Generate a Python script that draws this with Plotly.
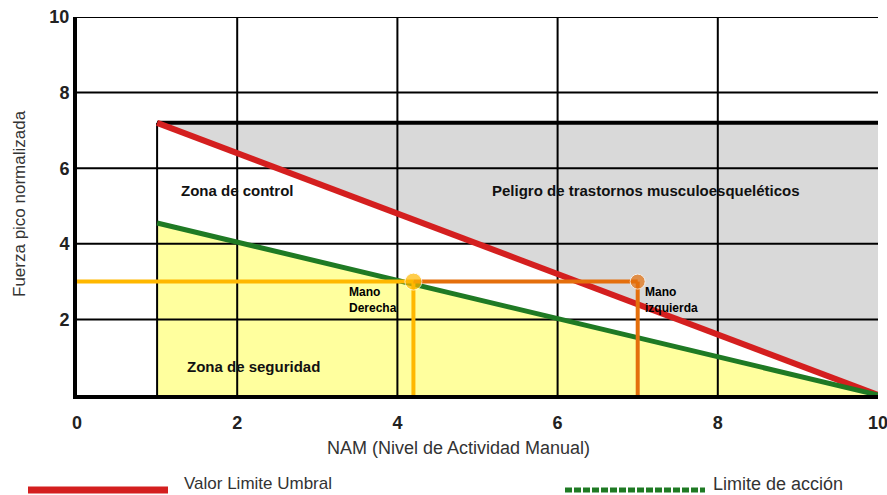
import plotly.graph_objects as go

# Umbral (TLV) and action-limit lines: NAM vs normalised peak force
nam_umbral = [1, 10]
fuerza_umbral = [7.2, 0]
nam_accion = [1, 10]
fuerza_accion = [4.55, 0]

# Measured hands
mano_nombres = ["Mano<br>Derecha", "Mano<br>izquierda"]
mano_nam = [4.2, 7.0]
mano_fuerza = [3, 3]

# Zone labels
zonas = ["Zona de control", "Peligro de trastornos musculoesqueléticos", "Zona de seguridad"]
zona_x = [2.0, 7.1, 2.2]
zona_y = [5.4, 5.4, 0.75]

x_ticks = [0, 2, 4, 6, 8, 10]
y_ticks = [2, 4, 6, 8, 10]

leyenda = ["Valor Limite Umbral", "Limite de acción"]

W, H = 887, 495
L, R, T, B = 77, 9, 17, 100

ROJO = "#D41F1F"
VERDE = "#1F7A24"
GRIS = "#D9D9D9"
AMARILLO = "#FFFF9E"
ORO = "#FFB800"
NARANJA = "#E46F0C"
FONT = "Liberation Sans, Arial, sans-serif"


def px_x(p):
    return (p - L) / (W - L - R)


def px_y(p):
    return (H - B - p) / (H - T - B)


fig = go.Figure()

# danger zone: above the TLV line, up to its starting level
fig.add_trace(go.Scatter(
    x=nam_umbral + [nam_umbral[-1], nam_umbral[0]],
    y=fuerza_umbral + [fuerza_umbral[0], fuerza_umbral[0]],
    fill="toself", fillcolor=GRIS, line=dict(width=0), mode="lines",
    hoverinfo="skip", showlegend=False))

# safety zone: below the action limit
fig.add_trace(go.Scatter(
    x=[nam_accion[0]] + nam_accion,
    y=[0] + fuerza_accion,
    fill="toself", fillcolor=AMARILLO, line=dict(width=0), mode="lines",
    hoverinfo="skip", showlegend=False))

# grid drawn over the filled zones
gx, gy = [], []
for v in x_ticks[1:-1]:
    gx += [v, v, None]
    gy += [0, y_ticks[-1], None]
for v in y_ticks:
    gx += [0, x_ticks[-1], None]
    gy += [v, v, None]
fig.add_trace(go.Scatter(x=gx, y=gy, mode="lines",
                         line=dict(color="black", width=2),
                         hoverinfo="skip", showlegend=False))

# outline of the zone block
fig.add_trace(go.Scatter(x=[nam_umbral[0], nam_umbral[0]], y=[0, fuerza_umbral[0]],
                         mode="lines", line=dict(color="black", width=2),
                         hoverinfo="skip", showlegend=False))
fig.add_trace(go.Scatter(x=[nam_umbral[0], nam_umbral[-1]],
                         y=[fuerza_umbral[0], fuerza_umbral[0]],
                         mode="lines", line=dict(color="black", width=4),
                         hoverinfo="skip", showlegend=False))

# limit lines
fig.add_trace(go.Scatter(x=nam_umbral, y=fuerza_umbral, mode="lines",
                         line=dict(color=ROJO, width=6), name=leyenda[0],
                         showlegend=False))
fig.add_trace(go.Scatter(x=nam_accion, y=fuerza_accion, mode="lines",
                         line=dict(color=VERDE, width=5), name=leyenda[1],
                         showlegend=False))

# right hand: guide lines from the axes
fig.add_trace(go.Scatter(x=[0, mano_nam[0]], y=[mano_fuerza[0], mano_fuerza[0]],
                         mode="lines", line=dict(color=ORO, width=4),
                         hoverinfo="skip", showlegend=False))
fig.add_trace(go.Scatter(x=[mano_nam[0], mano_nam[0]], y=[mano_fuerza[0], 0],
                         mode="lines", line=dict(color=ORO, width=4),
                         hoverinfo="skip", showlegend=False))
# left hand: guide lines
fig.add_trace(go.Scatter(x=[mano_nam[0], mano_nam[1]], y=[mano_fuerza[1], mano_fuerza[1]],
                         mode="lines", line=dict(color=NARANJA, width=4),
                         hoverinfo="skip", showlegend=False))
fig.add_trace(go.Scatter(x=[mano_nam[1], mano_nam[1]], y=[mano_fuerza[1], 0],
                         mode="lines", line=dict(color=NARANJA, width=4),
                         hoverinfo="skip", showlegend=False))
fig.add_trace(go.Scatter(x=mano_nam, y=mano_fuerza, mode="markers",
                         marker=dict(color=[ORO, NARANJA], size=[17, 15]),
                         hoverinfo="skip", showlegend=False))

annotations = []
for nombre, xv, yv, shift in zip(mano_nombres, mano_nam, mano_fuerza, [-66, 5]):
    annotations.append(dict(x=xv, y=yv, xref="x", yref="y", text=nombre,
                            showarrow=False, xanchor="left", yanchor="top",
                            align="left", xshift=shift, yshift=-1,
                            font=dict(family=FONT, size=12,
                                      color="black", weight="bold")))
for z, xv, yv in zip(zonas, zona_x, zona_y):
    annotations.append(dict(x=xv, y=yv, xref="x", yref="y", text=z,
                            showarrow=False, xanchor="center", yanchor="middle",
                            font=dict(family=FONT, size=15, color="#111",
                                      weight="bold")))

# axis titles
annotations.append(dict(x=px_x(458), y=px_y(448), xref="paper", yref="paper",
                        text="NAM (Nivel de Actividad Manual)", showarrow=False,
                        xanchor="center", yanchor="middle",
                        font=dict(family=FONT, size=18, color="#333")))
annotations.append(dict(x=px_x(20), y=px_y(204), xref="paper", yref="paper",
                        text="Fuerza pico normalizada", showarrow=False,
                        textangle=-90, xanchor="center", yanchor="middle",
                        font=dict(family=FONT, size=17, color="#333")))

# legend text
annotations.append(dict(x=px_x(182), y=px_y(484), xref="paper", yref="paper",
                        text=leyenda[0], showarrow=False, xanchor="left",
                        yanchor="middle",
                        font=dict(family=FONT, size=17, color="#333")))
annotations.append(dict(x=px_x(711), y=px_y(484), xref="paper", yref="paper",
                        text=leyenda[1], showarrow=False, xanchor="left",
                        yanchor="middle",
                        font=dict(family=FONT, size=18, color="#333")))

shapes = [
    dict(type="line", xref="paper", yref="paper",
         x0=px_x(28), x1=px_x(168), y0=px_y(490), y1=px_y(490),
         line=dict(color=ROJO, width=7)),
    dict(type="line", xref="paper", yref="paper",
         x0=px_x(565), x1=px_x(705), y0=px_y(490), y1=px_y(490),
         line=dict(color=VERDE, width=5, dash="7px,2px")),
]

fig.update_layout(
    width=W, height=H,
    margin=dict(l=L, r=R, t=T, b=B),
    paper_bgcolor="white", plot_bgcolor="white",
    annotations=annotations, shapes=shapes,
    xaxis=dict(range=[0, 10], tickvals=x_ticks, showgrid=False, zeroline=False,
               showline=True, linewidth=4, linecolor="black", ticks="",
               ticklabelstandoff=8, ticklabeloverflow="allow", automargin=False,
               tickfont=dict(family=FONT, size=18, color="#222", weight="bold")),
    yaxis=dict(range=[0, 10], tickvals=y_ticks, showgrid=False, zeroline=False,
               showline=True, linewidth=4, linecolor="black", ticks="",
               ticklabelstandoff=0, ticklabeloverflow="allow", automargin=False,
               tickfont=dict(family=FONT, size=18, color="#222", weight="bold")),
)

fig.write_html("out.html")
